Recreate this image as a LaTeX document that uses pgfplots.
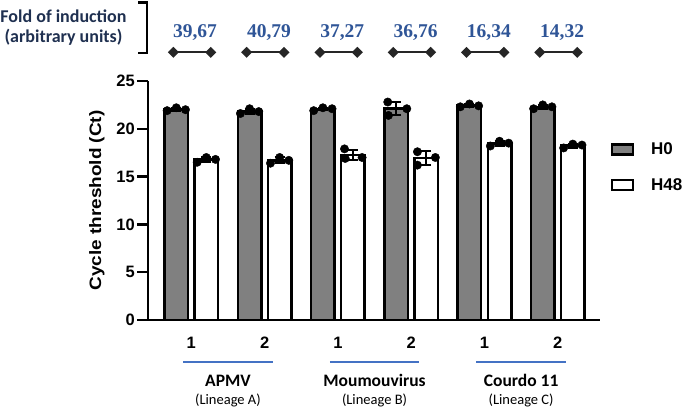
\documentclass[border=0pt]{standalone}
\usepackage{pgfplots}
\pgfplotsset{compat=1.18}
\usepackage{pgfplotstable}
\usepackage{graphicx}
\usepackage{fontspec}
\setmainfont{Liberation Sans}
\newfontfamily\carlito{Carlito}
\newfontfamily\numfont{Liberation Serif}
\definecolor{numblue}{HTML}{2F5597}
\definecolor{lineblue}{HTML}{4472C4}
\definecolor{darktxt}{HTML}{1F3050}
\definecolor{barg}{HTML}{808080}

\pgfplotstableread{
x y err
0.795 22.03 0.15
1.795 21.83 0.25
2.795 22.07 0.15
3.795 22.10 0.70
4.795 22.43 0.15
5.795 22.30 0.20
}\grayt

\pgfplotstableread{
x y err
1.205 16.77 0.25
2.205 16.70 0.30
3.205 17.27 0.55
4.205 16.93 0.70
5.205 18.47 0.25
6.205 18.23 0.20
}\whitet

\pgfplotstableread{
x y
0.67 21.9
0.795 22.2
0.92 22.0
1.08 16.5
1.205 17.0
1.33 16.8
1.67 21.6
1.795 22.1
1.92 21.8
2.08 16.4
2.205 17.0
2.33 16.7
2.67 21.9
2.795 22.2
2.92 22.1
3.09 17.9
3.10 16.9
3.33 17.0
3.68 22.8
3.69 21.4
3.94 22.1
4.085 17.6
4.085 16.2
4.33 17.0
4.67 22.3
4.795 22.6
4.92 22.4
5.08 18.2
5.205 18.7
5.33 18.5
5.67 22.1
5.795 22.5
5.92 22.3
6.08 18.0
6.205 18.4
6.33 18.3
}\dotst

\tikzset{
  foldnum/.style={anchor=base, text=numblue, font=\numfont\bfseries\fontsize{19.5}{19.5}\selectfont, inner sep=0pt},
  xtl/.style={anchor=base, font=\bfseries\fontsize{16.5}{16.5}\selectfont, inner sep=0pt},
  grp/.style={anchor=base, font=\carlito\bfseries\fontsize{17.5}{17.5}\selectfont, inner sep=0pt},
  lin/.style={anchor=base, font=\carlito\fontsize{14.5}{14.5}\selectfont, inner sep=0pt},
}
\pgfplotsset{
  conn/.style={black!85, line width=2pt, mark=square*, mark size=2.9pt, mark options={rotate=45, solid}, forget plot},
  boxleg/.style={legend image code/.code={\draw[line width=2.5pt,##1] (0pt,-4.9pt) rectangle (20.8pt,4.9pt);}},
  mybar/.style={ybar, bar width=23.5pt, bar shift=0pt, draw=black, line width=2.5pt, boxleg,
    error bars/y dir=both, error bars/y explicit,
    error bars/error bar style={line width=2pt, black, solid},
    error bars/error mark options={rotate=90, mark size=5pt, line width=2pt, black}},
}

\begin{document}
\begin{tikzpicture}
\useasboundingbox (0pt,0pt) rectangle (685pt,-409pt);
\begin{axis}[
  at={(148pt,-320pt)}, anchor=south west,
  scale only axis, width=452pt, height=239pt,
  xmin=0.409, xmax=6.576, ymin=0, ymax=25,
  axis lines=left, axis line style={-, line width=2.5pt},
  xtick=\empty, ytick={0,5,...,25},
  tick align=outside, major tick length=11pt,
  tick style={line width=2.5pt, black},
  /pgf/number format/assume math mode=true,
  yticklabel style={font=\bfseries\fontsize{16.5}{16.5}\selectfont, inner sep=2pt},
  ylabel={\scalebox{1.15}[1]{Cycle threshold (Ct)}},
  ylabel style={font=\bfseries\fontsize{16.5}{16.5}\selectfont, at={(axis description cs:-0.113,0.5)}, anchor=center},
  clip=false,
  legend style={at={(axis description cs:1.0237,0.7418)}, anchor=north west, draw=none, fill=none,
    font=\bfseries\fontsize{17}{17}\selectfont, row sep=22pt, inner sep=0pt, nodes={inner sep=0pt},
    /tikz/every odd column/.append style={column sep=17pt}},
  legend cell align=left,
]
\addplot[mybar, fill=barg] table[x=x, y=y, y error=err] {\grayt};
\addlegendentry{H0}
\addplot[mybar, fill=white] table[x=x, y=y, y error=err] {\whitet};
\addlegendentry{H48}
\addplot[only marks, mark=*, mark size=4.2pt, black, forget plot] table[x=x, y=y] {\dotst};

% fold-of-induction connectors
\addplot[conn] coordinates {(0.755,28.0) (1.265,28.0)};
\addplot[conn] coordinates {(1.755,28.0) (2.265,28.0)};
\addplot[conn] coordinates {(2.755,28.0) (3.265,28.0)};
\addplot[conn] coordinates {(3.755,28.0) (4.265,28.0)};
\addplot[conn] coordinates {(4.755,28.0) (5.265,28.0)};
\addplot[conn] coordinates {(5.755,28.0) (6.265,28.0)};

% fold values
\node[foldnum] at (axis cs:1.05,29.6) {39,67};
\node[foldnum] at (axis cs:2.06,29.6) {40,79};
\node[foldnum] at (axis cs:3.06,29.6) {37,27};
\node[foldnum] at (axis cs:4.06,29.6) {36,76};
\node[foldnum] at (axis cs:5.06,29.6) {16,34};
\node[foldnum] at (axis cs:6.06,29.6) {14,32};
% x tick labels
\node[xtl] at (axis cs:1,-3.03) {1};
\node[xtl] at (axis cs:2,-3.03) {2};
\node[xtl] at (axis cs:3,-3.03) {1};
\node[xtl] at (axis cs:4,-3.03) {2};
\node[xtl] at (axis cs:5,-3.03) {1};
\node[xtl] at (axis cs:6,-3.03) {2};
% group lines and labels
\draw[lineblue, line width=1.8pt] (axis cs:0.89,-4.36) -- (axis cs:2.11,-4.36);
\draw[lineblue, line width=1.8pt] (axis cs:2.89,-4.36) -- (axis cs:4.11,-4.36);
\draw[lineblue, line width=1.8pt] (axis cs:4.89,-4.36) -- (axis cs:6.11,-4.36);
\node[grp] at (axis cs:1.5,-6.98) {APMV};
\node[grp] at (axis cs:3.5,-6.98) {Moumouvirus};
\node[grp] at (axis cs:5.5,-6.98) {Courdo 11};
\node[lin] at (axis cs:1.5,-8.84) {(Lineage A)};
\node[lin] at (axis cs:3.5,-8.84) {(Lineage B)};
\node[lin] at (axis cs:5.5,-8.84) {(Lineage C)};
\end{axis}
% top-left annotation
\node[anchor=base, text=darktxt, font=\carlito\bfseries\fontsize{18}{18}\selectfont, inner sep=0pt] at (63.5pt,-22.7pt) {Fold of induction};
\node[anchor=base, text=darktxt, font=\carlito\bfseries\fontsize{18}{18}\selectfont, inner sep=0pt] at (63.5pt,-42.7pt) {(arbitrary units)};
\draw[black, line width=2.5pt] (138pt,-2.5pt) -- (147pt,-2.5pt) -- (147pt,-53pt) -- (138pt,-53pt);
\end{tikzpicture}
\end{document}
